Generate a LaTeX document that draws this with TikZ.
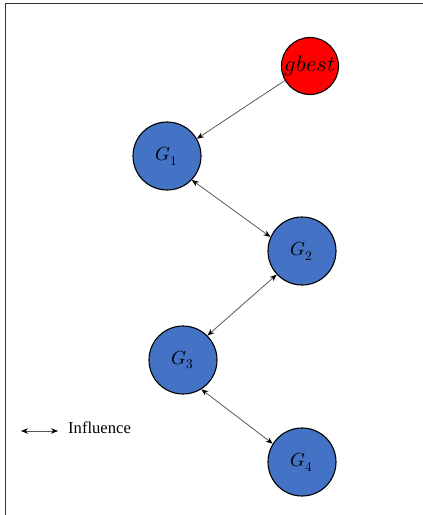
\documentclass[tikz,border=0pt]{standalone}
\usepackage{fontspec}
\usepackage{unicode-math}
\setmainfont{Liberation Serif}
\setmathfont{Latin Modern Math}
\usetikzlibrary{arrows.meta}
\definecolor{gblue}{HTML}{4472C4}
\begin{document}
\begin{tikzpicture}[x=1pt,y=-1pt,
  agent/.style={circle,draw=black,line width=1.1pt,fill=gblue,minimum size=68pt,inner sep=0pt,font=\fontsize{19}{22}\selectfont},
  best/.style={circle,draw=black,line width=1.1pt,fill=red,minimum size=57pt,inner sep=0pt,font=\fontsize{22.5}{26}\selectfont},
  link/.style={draw=black!65,line width=0.8pt},
  frame/.style={draw=black!80,line width=1.5pt}
]
\useasboundingbox (0,0) rectangle (423,515);
\draw[frame] (5.5,515) -- (5.5,3.5) -- (423,3.5);

\node[best]  (gb) at (310,66)  {$gbest$};
\node[agent] (G1) at (167,156) {$G_1$};
\node[agent] (G2) at (302,251) {$G_2$};
\node[agent] (G3) at (183,360) {$G_3$};
\node[agent] (G4) at (302,462) {$G_4$};

\draw[link,-{Stealth[length=7pt,width=5.5pt,color=black]}] (gb.210) -- (G1.30);
\draw[link,{Stealth[length=7pt,width=5.5pt,color=black]}-{Stealth[length=7pt,width=5.5pt,color=black]}] (G1.-44) -- (G2.156);
\draw[link,{Stealth[length=7pt,width=5.5pt,color=black]}-{Stealth[length=7pt,width=5.5pt,color=black]}] (G2.223) -- (G3.45);
\draw[link,{Stealth[length=7pt,width=5.5pt,color=black]}-{Stealth[length=7pt,width=5.5pt,color=black]}] (G3.-58) -- (G4.148);

\coordinate (L1) at (21,431);
\coordinate (L2) at (58,431);
\draw[link,{Stealth[length=7pt,width=5.5pt,color=black]}-{Stealth[length=7pt,width=5.5pt,color=black]}] (L1) -- (L2);
\node[anchor=base west,inner sep=0pt,font=\fontsize{16.6}{20}\selectfont] (lg) at (68,433) {Influence};
\end{tikzpicture}
\end{document}
